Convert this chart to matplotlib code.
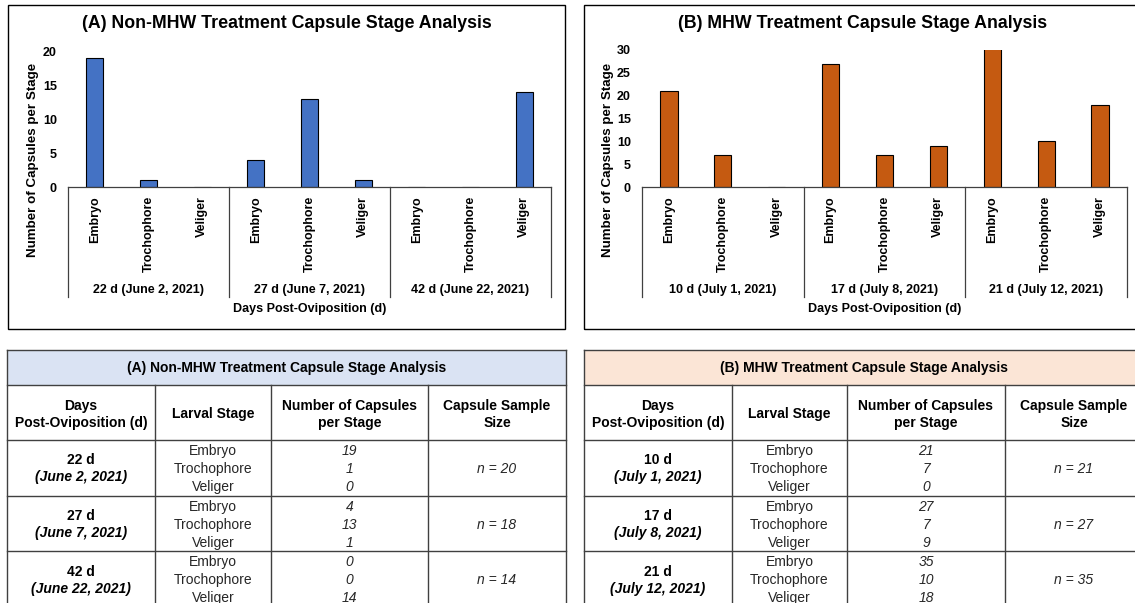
import matplotlib.pyplot as plt
import matplotlib.transforms as mtransforms
from matplotlib.lines import Line2D
from matplotlib.patches import Rectangle

plt.rcParams["font.family"] = ["Liberation Sans", "DejaVu Sans"]

W, H = 1135, 603

stages = ["Embryo", "Trochophore", "Veliger"]

days_a = ["22 d", "27 d", "42 d"]
dates_a = ["June 2, 2021", "June 7, 2021", "June 22, 2021"]
counts_a = [[19, 1, 0], [4, 13, 1], [0, 0, 14]]
n_a = [20, 18, 14]

days_b = ["10 d", "17 d", "21 d"]
dates_b = ["July 1, 2021", "July 8, 2021", "July 12, 2021"]
counts_b = [[21, 7, 0], [27, 7, 9], [35, 10, 18]]
n_b = [21, 27, 35]

title_a = "(A) Non-MHW Treatment Capsule Stage Analysis"
title_b = "(B) MHW Treatment Capsule Stage Analysis"

LINE = "#404040"
SMALL = 9


def fx(px):
    return px / W


def fy(py):
    return 1 - py / H


def draw_chart(fig, box, axbox, title, days, dates, counts, ymax, color, ylab_x):
    x0, y0, x1, y1 = box
    fig.add_artist(Rectangle((fx(x0), fy(y1)), fx(x1) - fx(x0), fy(y0) - fy(y1),
                             transform=fig.transFigure, fill=False,
                             edgecolor="black", lw=1))
    fig.text(fx((x0 + x1) / 2), fy(24), title, ha="center", va="center",
             fontsize=12.75, fontweight="bold")

    left, top, right, bottom = axbox
    ax = fig.add_axes([fx(left), fy(bottom), fx(right) - fx(left), fy(top) - fy(bottom)])
    values = [v for grp in counts for v in grp]
    ax.bar(range(len(values)), values, width=0.32, color=color,
           edgecolor="black", linewidth=0.8)
    ax.set_xlim(-0.5, len(values) - 0.5)
    ax.set_ylim(0, ymax)
    ax.set_yticks(range(0, ymax + 1, 5))
    ax.set_xticks(range(len(values)), stages * len(days), rotation=90)
    for lab in ax.get_xticklabels() + ax.get_yticklabels():
        lab.set_fontweight("bold")
        lab.set_fontsize(SMALL)
    ax.tick_params(axis="x", length=0, pad=6.5)
    ax.tick_params(axis="y", length=0, pad=8)
    for side in ["top", "right", "left"]:
        ax.spines[side].set_visible(False)
    ax.spines["bottom"].set_color(LINE)
    ax.spines["bottom"].set_linewidth(0.9)

    # category group dividers and date labels under the stage names
    trans = mtransforms.blended_transform_factory(ax.transData, fig.transFigure)
    for i in range(len(days) + 1):
        xb = i * 3 - 0.5
        fig.add_artist(Line2D([xb, xb], [fy(bottom), fy(297)], transform=trans,
                              color=LINE, lw=0.9))
    for i, (d, dt) in enumerate(zip(days, dates)):
        ax.text(i * 3 + 1, fy(290), f"{d} ({dt})", transform=trans,
                ha="center", va="center", fontsize=SMALL, fontweight="bold")

    fig.text(fx((left + right) / 2), fy(309), "Days Post-Oviposition (d)",
             ha="center", va="center", fontsize=SMALL, fontweight="bold")
    fig.text(fx(ylab_x), fy(160), "Number of Capsules per Stage", rotation=90,
             ha="center", va="center", fontsize=9.6, fontweight="bold")
    return ax


def draw_table(fig, cols, band_color, title, days, dates, counts, n):
    left, right = cols[0], cols[-1]
    rows = [350, 385, 440, 496, 551, 610]
    fig.add_artist(Rectangle((fx(left), fy(rows[1])), fx(right) - fx(left),
                             fy(rows[0]) - fy(rows[1]), transform=fig.transFigure,
                             facecolor=band_color, edgecolor="none"))
    for yy in rows[:-1]:
        fig.add_artist(Line2D([fx(left), fx(right)], [fy(yy), fy(yy)],
                              transform=fig.transFigure, color=LINE, lw=1))
    for xx in [left, right]:
        fig.add_artist(Line2D([fx(xx), fx(xx)], [fy(rows[0]), fy(rows[-1])],
                              transform=fig.transFigure, color=LINE, lw=1))
    for xx in cols[1:-1]:
        fig.add_artist(Line2D([fx(xx), fx(xx)], [fy(rows[1]), fy(rows[-1])],
                              transform=fig.transFigure, color=LINE, lw=1))

    fig.text(fx((left + right) / 2), fy(368), title, ha="center", va="center",
             fontsize=10, fontweight="bold")

    centers = [(a + b) / 2 for a, b in zip(cols[:-1], cols[1:])]
    headers = [["Days", "Post-Oviposition (d)"], ["Larval Stage"],
               ["Number of Capsules", "per Stage"], ["Capsule Sample", "Size"]]
    for cx, lines in zip(centers, headers):
        ys = [406, 423] if len(lines) == 2 else [414]
        for yy, txt in zip(ys, lines):
            fig.text(fx(cx), fy(yy), txt, ha="center", va="center",
                     fontsize=10, fontweight="bold")

    for i in range(len(days)):
        mid = rows[i + 2] + 29
        fig.text(fx(centers[0]), fy(mid - 8.5), days[i], ha="center", va="center",
                 fontsize=10, fontweight="bold")
        fig.text(fx(centers[0]), fy(mid + 8.5), f"({dates[i]})", ha="center",
                 va="center", fontsize=10, fontweight="bold", fontstyle="italic")
        for j, st in enumerate(stages):
            yy = mid + (j - 1) * 17.8
            fig.text(fx(centers[1]), fy(yy), st, ha="center", va="center",
                     fontsize=10, color="#262626")
            fig.text(fx(centers[2]), fy(yy), str(counts[i][j]), ha="center",
                     va="center", fontsize=10, fontstyle="italic", color="#262626")
        fig.text(fx(centers[3]), fy(mid), f"n = {n[i]}", ha="center", va="center",
                 fontsize=10, fontstyle="italic", color="#262626")


fig = plt.figure(figsize=(W / 100, H / 100), dpi=100)

draw_chart(fig, (8, 5, 565, 329), (68, 51, 551, 187), title_a,
           days_a, dates_a, counts_a, 20, "#4472C4", 33)
draw_chart(fig, (584, 5, 1142, 329), (642, 50, 1127, 187), title_b,
           days_b, dates_b, counts_b, 30, "#C55A11", 608)

draw_table(fig, [7, 155, 271, 428, 566], "#DAE3F3", title_a,
           days_a, dates_a, counts_a, n_a)
draw_table(fig, [584, 732, 847, 1005, 1143], "#FBE5D6", title_b,
           days_b, dates_b, counts_b, n_b)

fig.savefig("out.png", dpi=100)
